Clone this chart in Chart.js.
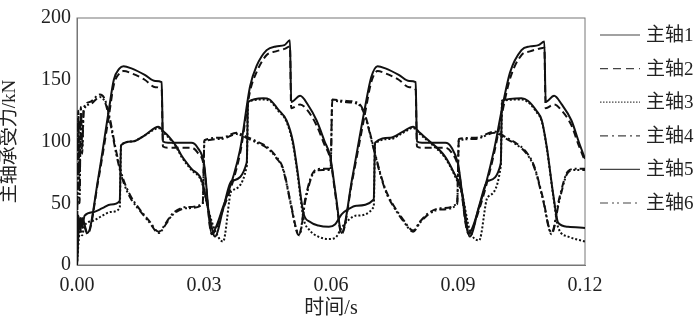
<!DOCTYPE html>
<html>
<head>
<meta charset="utf-8">
<script src="https://cdn.jsdelivr.net/npm/chart.js@4.4.0/dist/chart.umd.min.js"></script>
<style>
  html, body { margin: 0; padding: 0; background: #fff; }
  #wrap { width: 700px; height: 324px; }
</style>
</head>
<body>
<div id="wrap"><canvas id="forceChart" width="700" height="324"></canvas></div>
<script>
// 时间轴刻度和纵轴刻度
const xTicks = [0, 0.03, 0.06, 0.09, 0.12];
const yTicks = [0, 50, 100, 150, 200];
const seriesNames = ['主轴1', '主轴2', '主轴3', '主轴4', '主轴5', '主轴6'];

// 主轴1 / 主轴2 (大峰值曲线)
const timesB = [0, 0.0003, 0.0008, 0.0012, 0.0025, 0.005, 0.0075, 0.0087, 0.01, 0.011,
  0.013, 0.016, 0.0185, 0.02, 0.0203, 0.0215, 0.027, 0.0285, 0.03, 0.0318,
  0.0345, 0.0385, 0.0409, 0.0424, 0.0448, 0.047, 0.049, 0.0503, 0.0506, 0.0527,
  0.0545, 0.0566, 0.0585, 0.0598, 0.0612, 0.0625, 0.065, 0.068, 0.0695, 0.071,
  0.073, 0.076, 0.0785, 0.08, 0.0803, 0.0815, 0.087, 0.0885, 0.09, 0.0925,
  0.095, 0.0985, 0.1003, 0.1023, 0.105, 0.107, 0.109, 0.1104, 0.1107, 0.1127,
  0.1145, 0.1168, 0.1185, 0.12];
const force1 = [0, 40, 30, 38, 26, 70, 125, 150, 159, 161,
  159, 154, 149, 148, 100, 99, 99, 95, 82, 26,
  47, 93, 145, 161, 174, 177, 178, 182, 132, 137,
  130, 117, 100, 88, 55, 26, 70, 127, 152, 161,
  159, 154, 149, 148, 100, 99, 99, 95, 82, 26,
  47, 93, 125, 156, 174, 177, 178, 181, 132, 137,
  130, 117, 100, 86];
const force2 = [0, 38, 28, 36, 25, 68, 120, 146, 155, 157,
  155, 150, 144, 142, 96, 95, 95, 91, 80, 25,
  45, 90, 141, 156, 170, 173, 175, 177, 127, 130,
  125, 113, 97, 86, 53, 25, 68, 122, 148, 157,
  155, 150, 144, 142, 96, 95, 95, 91, 80, 25,
  45, 90, 121, 151, 170, 173, 175, 176, 127, 130,
  125, 113, 97, 84];

// 主轴3 / 主轴5
const timesD = [0, 0.0004, 0.0008, 0.0012, 0.0018, 0.004, 0.006, 0.008, 0.0101, 0.0104,
  0.013, 0.016, 0.0184, 0.0192, 0.0205, 0.0217, 0.0235, 0.0248, 0.027, 0.0295,
  0.031, 0.0326, 0.0345, 0.0365, 0.0401, 0.0404, 0.044, 0.0455, 0.0475, 0.0495,
  0.051, 0.052, 0.0535, 0.055, 0.057, 0.0595, 0.061, 0.0625, 0.064, 0.066,
  0.0701, 0.0704, 0.074, 0.077, 0.0794, 0.081, 0.083, 0.0869, 0.089, 0.0909,
  0.0928, 0.095, 0.097, 0.1001, 0.1004, 0.105, 0.1065, 0.1085, 0.1098, 0.111,
  0.1125, 0.1137, 0.116, 0.12];
const force5 = [0, 28, 38, 30, 40, 43, 46, 49, 52, 97,
  100, 105, 111, 112, 108, 104, 96, 88, 78, 68,
  45, 23, 45, 68, 83, 132, 135, 134, 126, 117,
  100, 78, 42, 35, 32, 31, 33, 41, 45, 48,
  53, 99, 103, 108, 112, 107, 101, 88, 75, 60,
  23, 48, 68, 82, 133, 135, 133, 125, 117, 95,
  57, 34, 31, 30];
const force3 = [0, 20, 30, 24, 32, 36, 40, 43, 46, 97,
  100, 105, 110, 111, 107, 103, 95, 87, 77, 67,
  45, 28, 19, 60, 80, 132, 134, 133, 125, 116,
  98, 76, 38, 28, 23, 21, 22, 30, 36, 40,
  47, 98, 102, 107, 111, 106, 100, 87, 74, 58,
  28, 20, 55, 80, 133, 134, 132, 124, 116, 94,
  56, 30, 23, 19];

// 主轴4 / 主轴6
const timesC = [0, 0.0003, 0.0006, 0.0009, 0.0012, 0.0016, 0.003, 0.0054, 0.0066, 0.0078,
  0.0092, 0.0106, 0.0125, 0.0146, 0.017, 0.0193, 0.021, 0.0224, 0.026, 0.0297,
  0.0301, 0.034, 0.0377, 0.04, 0.0425, 0.0448, 0.047, 0.0487, 0.0505, 0.0519,
  0.0525, 0.054, 0.056, 0.058, 0.0599, 0.0603, 0.063, 0.0665, 0.068, 0.07,
  0.0715, 0.073, 0.075, 0.077, 0.0794, 0.081, 0.083, 0.086, 0.0898, 0.0902,
  0.094, 0.0987, 0.101, 0.104, 0.106, 0.108, 0.11, 0.1121, 0.114, 0.116,
  0.118, 0.12];
const force4 = [0, 125, 60, 128, 95, 127, 132, 138, 134, 118,
  93, 73, 57, 46, 36, 27, 34, 41, 47, 50,
  101, 103, 107, 104, 100, 96, 88, 78, 50, 28,
  25, 55, 76, 78, 78, 134, 133, 131, 122, 96,
  76, 60, 47, 37, 28, 35, 42, 46, 50, 102,
  103, 108, 104, 98, 92, 80, 55, 26, 55, 76,
  78, 78];
const force6 = [0, 118, 50, 124, 90, 125, 130, 136, 132, 116,
  91, 71, 55, 45, 35, 26, 33, 40, 46, 49,
  100, 102, 106, 103, 99, 95, 87, 77, 49, 27,
  24, 53, 75, 77, 77, 133, 132, 130, 121, 95,
  75, 59, 46, 36, 27, 34, 41, 45, 49, 101,
  102, 107, 103, 97, 91, 79, 54, 25, 53, 75,
  77, 77];

const SERIF = '"Liberation Serif", "Times New Roman", "Noto Sans CJK SC", serif';
const lineColor = '#111';

function toPoints(times, values) {
  return times.map((t, i) => ({ x: t, y: values[i] }));
}

function makeSet(label, times, values, dash) {
  return {
    label,
    data: toPoints(times, values),
    borderColor: lineColor,
    borderWidth: 2,
    borderDash: dash,
    pointRadius: 0,
    cubicInterpolationMode: 'monotone',
    fill: false
  };
}

// 右侧图例
const sideLegend = {
  id: 'sideLegend',
  afterDraw(chart) {
    const ctx = chart.ctx;
    const x0 = chart.chartArea.right + 15;
    const dashes = [[], [8, 5], [1.5, 1.5], [8, 4, 2, 4], [], [8, 4, 2, 3, 2, 4]];
    chart.data.datasets.forEach((ds, i) => {
      const y = 35 + i * 33.6;
      ctx.save();
      ctx.strokeStyle = '#444';
      ctx.lineWidth = 1.2;
      ctx.setLineDash(dashes[i]);
      ctx.beginPath();
      ctx.moveTo(x0, y);
      ctx.lineTo(x0 + 40, y);
      ctx.stroke();
      ctx.restore();
      ctx.save();
      ctx.fillStyle = '#222';
      ctx.font = '19px ' + SERIF;
      ctx.textBaseline = 'middle';
      ctx.fillText(ds.label, x0 + 46, y + 1);
      ctx.restore();
    });
  }
};

// 绘图区外框
const frameBox = {
  id: 'frameBox',
  beforeDatasetsDraw(chart) {
    const { ctx, chartArea: a } = chart;
    ctx.save();
    ctx.strokeStyle = '#777';
    ctx.lineWidth = 1;
    ctx.strokeRect(a.left, a.top, a.right - a.left, a.bottom - a.top);
    ctx.restore();
  }
};

const ctx = document.getElementById('forceChart').getContext('2d');
new Chart(ctx, {
  type: 'line',
  data: {
    datasets: [
      makeSet(seriesNames[0], timesB, force1, []),
      makeSet(seriesNames[1], timesB, force2, [7, 4]),
      makeSet(seriesNames[2], timesD, force3, [2, 2]),
      makeSet(seriesNames[3], timesC, force4, [7, 3, 2, 3]),
      makeSet(seriesNames[4], timesD, force5, []),
      makeSet(seriesNames[5], timesC, force6, [7, 3, 2, 2, 2, 3])
    ]
  },
  options: {
    responsive: false,
    animation: false,
    layout: { padding: { top: 8, right: 115, left: 0, bottom: 0 } },
    plugins: { legend: { display: false }, tooltip: { enabled: false } },
    scales: {
      x: {
        type: 'linear',
        min: 0,
        max: 0.12,
        afterBuildTicks: (scale) => { scale.ticks = xTicks.map(v => ({ value: v })); },
        afterFit: (scale) => { scale.height = 59; },
        ticks: {
          color: '#222',
          padding: 9,
          autoSkip: false,
          maxRotation: 0,
          font: { family: SERIF, size: 20 },
          callback: (v) => Number(v).toFixed(2)
        },
        grid: { display: false, drawTicks: false },
        border: { display: true, color: '#777' },
        title: {
          display: true,
          text: '时间/s',
          color: '#222',
          padding: { top: 0, bottom: 5 },
          font: { family: SERIF, size: 20, lineHeight: 1 }
        }
      },
      y: {
        min: 0,
        max: 200,
        afterBuildTicks: (scale) => { scale.ticks = yTicks.map(v => ({ value: v })); },
        afterFit: (scale) => { scale.width = 77; },
        ticks: {
          color: '#222',
          padding: 6,
          font: { family: SERIF, size: 20 }
        },
        grid: { display: false, drawTicks: false },
        border: { display: true, color: '#777' },
        title: {
          display: true,
          text: '主轴承受力/kN',
          color: '#222',
          padding: { top: 1, bottom: 0 },
          font: { family: SERIF, size: 19, lineHeight: 1 }
        }
      }
    }
  },
  plugins: [frameBox, sideLegend]
});
</script>
</body>
</html>
